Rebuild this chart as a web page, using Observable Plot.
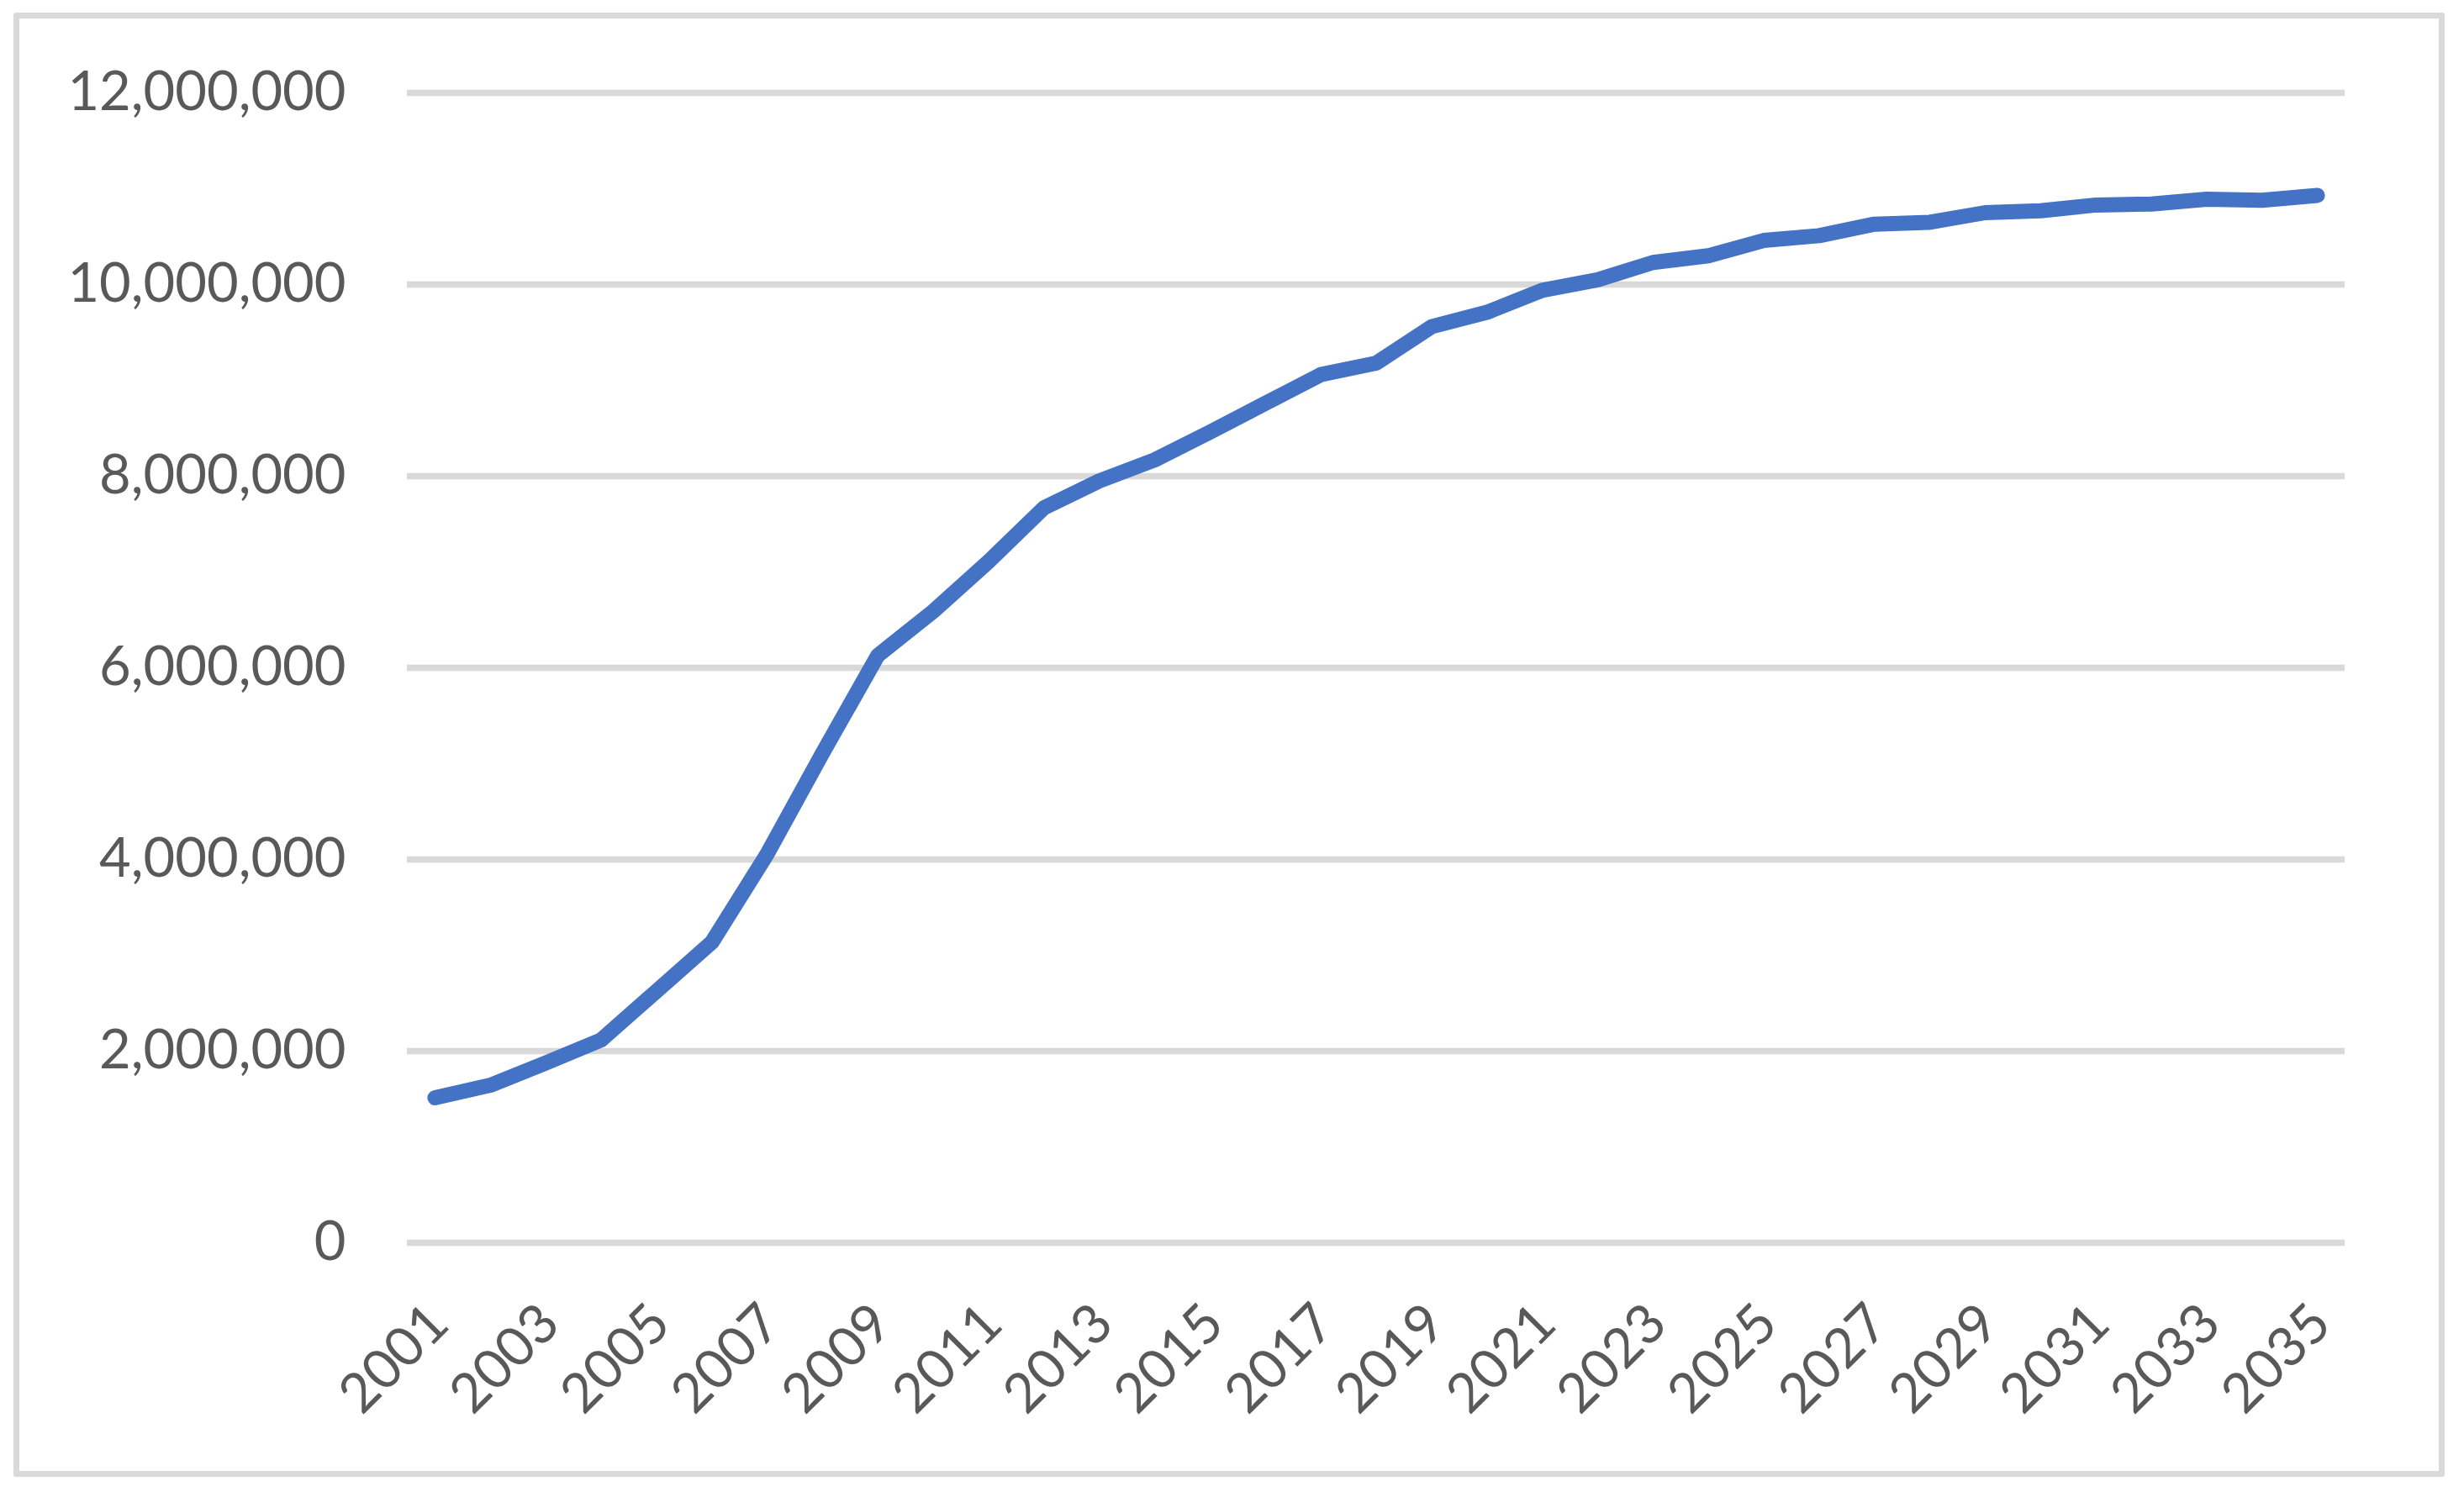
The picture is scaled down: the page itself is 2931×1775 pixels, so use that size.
<!DOCTYPE html>
<html><head><meta charset="utf-8">
<script src="https://cdn.jsdelivr.net/npm/d3@7"></script>
<script src="https://cdn.jsdelivr.net/npm/@observablehq/plot@0.6"></script>
<style>
html,body{margin:0;padding:0;background:#fff;}
#frame{position:absolute;left:16px;top:15px;width:2878px;height:1728px;border:7px solid #d9d9d9;border-radius:3px;}
#chart{position:absolute;left:0;top:0;}
</style></head><body>
<div id="frame"></div>
<div id="chart"></div>
<script>
const years = [2001,2002,2003,2004,2005,2006,2007,2008,2009,2010,2011,2012,2013,2014,2015,2016,2017,2018,2019,2020,2021,2022,2023,2024,2025,2026,2027,2028,2029,2030,2031,2032,2033,2034,2035];
const values = [1513000,1644000,1876000,2116000,2625000,3135000,4058000,5110000,6130000,6590000,7110000,7670000,7950000,8170000,8460000,8760000,9060000,9180000,9560000,9710000,9940000,10050000,10230000,10300000,10460000,10510000,10630000,10650000,10750000,10770000,10830000,10840000,10890000,10880000,10930000];
const yTicks = [0,2000000,4000000,6000000,8000000,10000000,12000000];
const xTicks = [2001,2003,2005,2007,2009,2011,2013,2015,2017,2019,2021,2023,2025,2027,2029,2031,2033,2035];

const data = years.map((y,i)=>({year:y, value:values[i]}));
const chart = Plot.plot({
  width:2931, height:1775,
  marginLeft:484, marginRight:142, marginTop:110, marginBottom:297,
  style:{fontFamily:"Lato", fontSize:"65px", color:"#595959", background:"transparent"},
  x:{type:"point", domain:years, padding:0.5, round:false},
  y:{domain:[0,12000000]},
  marks:[
    Plot.ruleY(yTicks,{stroke:"#d9d9d9", strokeWidth:7.5}),
    Plot.axisY({ticks:yTicks, tickSize:0, tickPadding:73, tickFormat:d3.format(","), label:null, fill:"#595959"}),
    Plot.axisX({ticks:xTicks, tickSize:0, tickRotate:-45, tickPadding:85, dx:5, tickFormat:d=>String(d), label:null, fill:"#595959"}),
    Plot.line(data,{x:"year", y:"value", stroke:"#4472c4", strokeWidth:18, strokeLinecap:"round", strokeLinejoin:"round"})
  ]
});
document.getElementById("chart").appendChild(chart);
</script>
</body></html>
